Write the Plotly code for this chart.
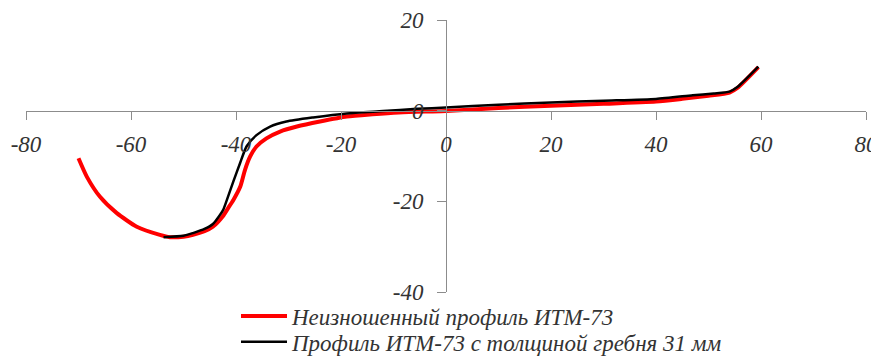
import plotly.graph_objects as go

# profile curves (x, mm / y, mm)
red_x = [-70, -68.4, -65.9, -62.7, -58.9, -54.5, -52.6, -50, -48.2, -46, -44.4, -42.5, -41.5,
         -40.5, -39.2, -38.3, -37.3, -36.1, -34.2, -31.6, -28.4, -24, -18.9, -14, -9, -4, 0,
         10, 20, 30, 40, 45, 50, 54, 55.5, 59.5]
red_y = [-10.5, -14.6, -19.0, -22.6, -25.6, -27.4, -27.9, -27.8, -27.4, -26.6, -25.6, -23.3, -21.5,
         -19.7, -16.8, -13.1, -10.1, -7.9, -6.1, -4.6, -3.5, -2.4, -1.3, -0.8, -0.4, -0.2, -0.1,
         0.6, 1.1, 1.5, 2.0, 2.6, 3.3, 4.0, 5.0, 9.6]

black_x = [-53.8, -50, -48.2, -46, -44.4, -42.5, -41.8, -40.5, -39.2, -38.0, -36.1, -33.5, -30.4,
           -25.3, -18.9, -12, -5.5, 0, 10, 20, 30, 40, 47, 51, 54, 55.5, 59.5]
black_y = [-27.9, -27.6, -27.0, -26.1, -25.0, -22.0, -19.9, -15.6, -11.5, -7.9, -5.4, -3.5, -2.4,
           -1.5, -0.6, -0.1, 0.4, 0.7, 1.3, 1.8, 2.2, 2.6, 3.4, 3.8, 4.2, 5.2, 9.7]

names = ["Неизношенный профиль ИТМ-73", "Профиль ИТМ-73 с толщиной гребня 31 мм"]

x_range = [-80, 80]
y_range = [-40, 20]
x_ticks = [-80, -60, -40, -20, 0, 20, 40, 60, 80]
y_ticks = [-40, -20, 0, 20]

font_family = "Liberation Serif, Times New Roman, DejaVu Serif, serif"
text_color = "#333333"
axis_color = "#8c8c8c"
tick_font = dict(family=font_family, size=23, style="italic", color=text_color)
legend_font = dict(family=font_family, size=23, style="italic", color=text_color)

fig = go.Figure()
fig.add_trace(go.Scatter(x=red_x, y=red_y, mode="lines", name=names[0], legend="legend",
                         line=dict(color="#ff0000", width=4, shape="spline", smoothing=0.6)))
fig.add_trace(go.Scatter(x=black_x, y=black_y, mode="lines", name=names[1], legend="legend2",
                         line=dict(color="#000000", width=2.5, shape="spline", smoothing=0.6)))

# the page body keeps an 8px margin, so the figure is 8px smaller than the window
fig.update_layout(
    width=871,
    height=351,
    margin=dict(l=18, r=13, t=12, b=67, autoexpand=False),
    paper_bgcolor="white",
    plot_bgcolor="white",
    font=dict(family=font_family, color=text_color, size=23, style="italic"),
    xaxis=dict(
        range=x_range, tickvals=x_ticks, ticktext=[str(v) for v in x_ticks],
        showgrid=False, zeroline=False,
        showline=True, linecolor=axis_color, linewidth=1,
        ticks="outside", ticklen=8, tickcolor=axis_color,
        anchor="free", position=(0 - y_range[0]) / (y_range[1] - y_range[0]),
        ticklabelstandoff=5,
        tickfont=tick_font,
    ),
    yaxis=dict(
        range=y_range, tickvals=y_ticks, ticktext=[str(v) for v in y_ticks],
        showgrid=False, zeroline=False,
        showline=True, linecolor=axis_color, linewidth=1,
        ticks="outside", ticklen=9, tickcolor=axis_color,
        anchor="free", position=(0 - x_range[0]) / (x_range[1] - x_range[0]),
        ticklabelstandoff=9,
        tickfont=tick_font,
    ),
    showlegend=True,
    legend=dict(x=0.25, xanchor="left", y=-0.088, yanchor="middle", itemwidth=46,
                font=legend_font, bgcolor="rgba(0,0,0,0)"),
    legend2=dict(x=0.25, xanchor="left", y=-0.183, yanchor="middle", itemwidth=46,
                 font=legend_font, bgcolor="rgba(0,0,0,0)"),
)

fig.write_html("out.html")
